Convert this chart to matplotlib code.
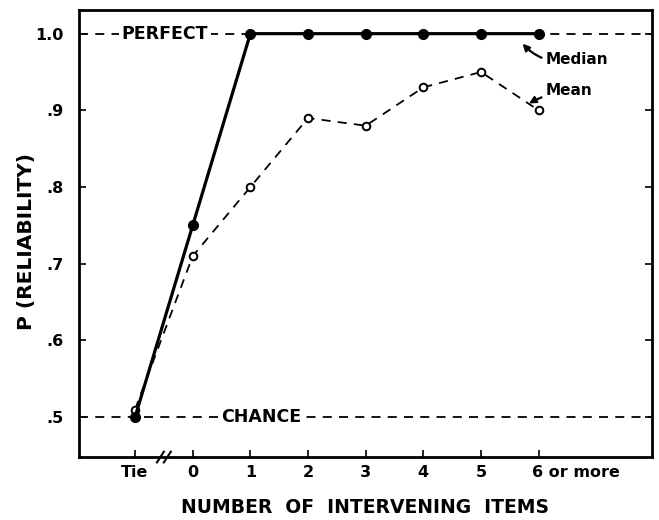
import matplotlib
matplotlib.use("Agg")
import matplotlib.pyplot as plt
import matplotlib.transforms as mtransforms
import numpy as np

plt.rcParams['font.family'] = ['DejaVu Sans']

categories = ["Tie", "0", "1", "2", "3", "4", "5", "6 or more"]
median = [0.50, 0.75, 1.0, 1.0, 1.0, 1.0, 1.0, 1.0]
mean = [0.51, 0.71, 0.80, 0.89, 0.88, 0.93, 0.95, 0.90]
yticks = [0.5, 0.6, 0.7, 0.8, 0.9, 1.0]
ytick_labels = [".5", ".6", ".7", ".8", ".9", "1.0"]

x = np.arange(len(categories))

fig = plt.figure(figsize=(6.59, 5.20), dpi=100)
ax = fig.add_axes([0.12, 0.121, 0.869, 0.860])

# reference lines
ax.axhline(1.0, color='black', lw=1.3, ls=(0, (5, 4)), zorder=1)
ax.axhline(0.5, color='black', lw=1.3, ls=(0, (5, 4)), zorder=1)
ax.text(-0.23, 1.0, "PERFECT", ha='left', va='center', fontsize=12.5,
        fontweight='bold',
        bbox=dict(facecolor='white', edgecolor='none', pad=2), zorder=2)
ax.text(1.5, 0.5, "CHANCE", ha='left', va='center', fontsize=12.5,
        fontweight='bold',
        bbox=dict(facecolor='white', edgecolor='none', pad=2), zorder=2)

ax.plot(x, median, color='black', lw=2.3, marker='o', ms=7,
        mfc='black', mec='black', zorder=4)
ax.plot(x, mean, color='black', lw=1.3, ls=(0, (5, 4)), marker='o', ms=5.5,
        mfc='white', mec='black', mew=1.4, zorder=3)

ax.annotate("Median", xy=(x[-1] - 0.28, 0.987), xytext=(x[-1] + 0.12, 0.966),
            fontsize=11, fontweight='bold', ha='left', va='center',
            arrowprops=dict(arrowstyle='-|>', color='black', lw=1.6,
                            connectionstyle='arc3,rad=-0.3', mutation_scale=10,
                            shrinkA=1, shrinkB=0))
ax.annotate("Mean", xy=(x[-1] - 0.17, 0.909), xytext=(x[-1] + 0.12, 0.926),
            fontsize=11, fontweight='bold', ha='left', va='center',
            arrowprops=dict(arrowstyle='-|>', color='black', lw=1.6,
                            connectionstyle='arc3,rad=0.1', mutation_scale=10,
                            shrinkA=1, shrinkB=0))

ax.set_xlim(-0.97, 8.96)
ax.set_ylim(0.448, 1.031)
ax.set_xticks(x)
ax.set_xticklabels(categories, fontsize=11.5, fontweight='bold')
ax.set_yticks(yticks)
ax.set_yticklabels(ytick_labels, fontsize=11.5, fontweight='bold')
ax.tick_params(direction='in', length=5, width=1.2, right=True)
ax.tick_params(axis='x', pad=6)
ax.tick_params(axis='y', pad=11)

# shift "6 or more" so it starts under its tick
last = ax.get_xticklabels()[-1]
last.set_ha('left')
last.set_transform(last.get_transform() +
                   mtransforms.ScaledTranslation(-0.07, 0, fig.dpi_scale_trans))

for s in ax.spines.values():
    s.set_linewidth(2)

# axis break between Tie and 0
bx = (x[0] + x[1]) / 2
trans = mtransforms.blended_transform_factory(ax.transData, ax.transAxes)
for dx in (-0.06, 0.06):
    ax.plot([bx + dx - 0.06, bx + dx + 0.06], [-0.012, 0.012], color='black',
            lw=1.5, transform=trans, clip_on=False, zorder=5)

ax.set_xlabel("NUMBER  OF  INTERVENING  ITEMS", fontsize=13.5, fontweight='bold',
              labelpad=13)
ax.set_ylabel("P (RELIABILITY)", fontsize=14.5, fontweight='bold')
ax.yaxis.set_label_coords(-0.075, 0.481)

fig.savefig("out.png", dpi=100)
